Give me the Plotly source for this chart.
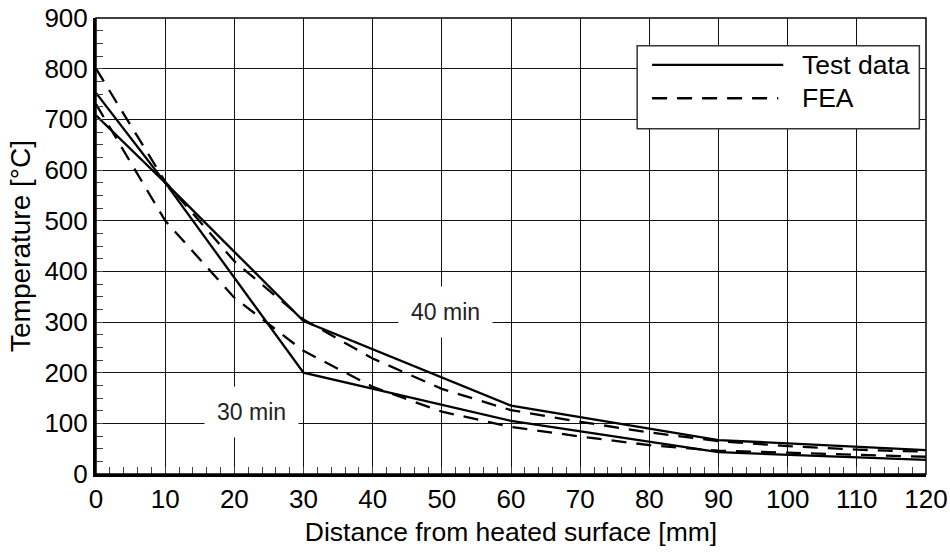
import plotly.graph_objects as go

# Thermocouple readings (test) and finite-element results at 30 and 40 minutes
dist_test = [0, 10, 30, 60, 90, 120]
test_30 = [708, 575, 200, 105, 43, 28]
test_40 = [752, 575, 302, 135, 67, 47]

dist_fea = [0, 10, 20, 30, 40, 50, 60, 70, 80, 90, 100, 110, 120]
fea_30 = [730, 500, 348, 243, 172, 123, 93, 74, 57, 46, 42, 38, 34]
fea_40 = [800, 577, 420, 305, 228, 168, 126, 103, 82, 65, 55, 48, 44]

x_ticks = list(range(0, 121, 10))
y_ticks = list(range(0, 901, 100))

FONT = "Liberation Sans, Arial, sans-serif"
DASH = "15px,10px"
LW = 2.3

fig = go.Figure()
for y in (test_30, test_40):
    fig.add_trace(go.Scatter(x=dist_test, y=y, mode="lines",
                             line=dict(color="black", width=LW),
                             showlegend=False, hoverinfo="skip"))
for y in (fea_30, fea_40):
    fig.add_trace(go.Scatter(x=dist_fea, y=y, mode="lines",
                             line=dict(color="black", width=LW, dash=DASH),
                             showlegend=False, hoverinfo="skip"))

# time labels on the curves
for txt, x, y in (("30 min", 22.5, 122), ("40 min", 50.5, 320)):
    fig.add_annotation(x=x, y=y, text=txt, showarrow=False,
                       font=dict(family=FONT, size=23, color="#222"),
                       bgcolor="white", borderpad=12)

# legend box drawn by hand so the sample lines are long
shapes = [
    dict(type="rect", xref="paper", yref="paper", x0=0, x1=1, y0=0, y1=1,
         line=dict(color="black", width=1.5), layer="above"),
    dict(type="rect", xref="paper", yref="paper", x0=0.652, x1=0.992,
         y0=0.757, y1=0.939, fillcolor="white",
         line=dict(color="#333", width=1.5), layer="above"),
    dict(type="line", xref="paper", yref="paper", x0=0.670, x1=0.828,
         y0=0.897, y1=0.897, line=dict(color="black", width=LW), layer="above"),
    dict(type="line", xref="paper", yref="paper", x0=0.670, x1=0.822,
         y0=0.824, y1=0.824, line=dict(color="black", width=LW, dash=DASH),
         layer="above"),
]
for txt, y in (("Test data", 0.897), ("FEA", 0.824)):
    fig.add_annotation(xref="paper", yref="paper", x=0.848, y=y, text=txt,
                       showarrow=False, xanchor="left", yanchor="middle",
                       font=dict(family=FONT, size=26.5, color="black"))

axis_common = dict(
    showgrid=True, gridcolor="#111", gridwidth=1,
    showline=True, linecolor="black", linewidth=3,
    ticks="inside", ticklen=7, tickcolor="#444", tickwidth=1,
    zeroline=False, automargin=False,
    tickfont=dict(family=FONT, size=26, color="black"),
)

fig.update_layout(
    width=950, height=552,
    margin=dict(l=96, r=24, t=18, b=78),
    paper_bgcolor="white", plot_bgcolor="white",
    font=dict(family=FONT, size=26, color="black"),
    shapes=shapes,
    xaxis=dict(range=[0, 120], tickvals=x_ticks, **axis_common,
               minor=dict(dtick=2, ticks="inside", ticklen=7,
                          tickcolor="#444", showgrid=False),
               title=dict(text="Distance from heated surface [mm]",
                          font=dict(family=FONT, size=26.5), standoff=10)),
    yaxis=dict(range=[0, 900], tickvals=y_ticks, **axis_common,
               minor=dict(dtick=25, ticks="inside", ticklen=7,
                          tickcolor="#444", showgrid=False),
               title=dict(text="Temperature [°C]",
                          font=dict(family=FONT, size=28), standoff=6)),
)

fig.write_html("out.html")
